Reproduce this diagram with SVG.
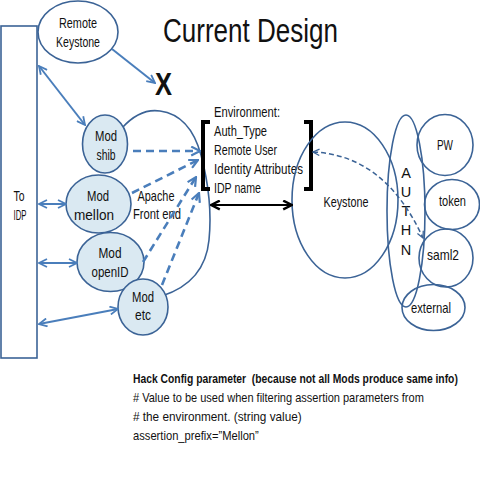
<svg xmlns="http://www.w3.org/2000/svg" width="480" height="480" viewBox="0 0 480 480">
<defs>
<style>
text{font-family:"Liberation Sans",Arial,sans-serif;fill:#111;}
.t{font-size:14.5px;text-anchor:middle;}
.env{font-size:14.5px;}
.bot{font-size:13px;}
.shape{fill:none;stroke:#3b6396;stroke-width:1.6;}
.mod{fill:#dae9f2;stroke:#3b6396;stroke-width:1.6;}
.blue{fill:none;stroke:#4a7ebb;stroke-width:2;}
.dash{fill:none;stroke:#4a7ebb;stroke-width:2.6;stroke-dasharray:8 5;}
.thin{fill:none;stroke:#3b6396;stroke-width:1.5;stroke-dasharray:5 3;}
.blk{fill:none;stroke:#000;stroke-width:2.2;}
</style>
<marker id="ab" viewBox="0 0 10 10" refX="9" refY="5" markerWidth="10" markerHeight="10" markerUnits="userSpaceOnUse" orient="auto-start-reverse">
<path d="M1,1 L9,5 L1,9" fill="none" stroke="#4a7ebb" stroke-width="1.8"/>
</marker>
<marker id="ad" viewBox="0 0 10 10" refX="9" refY="5" markerWidth="11" markerHeight="11" markerUnits="userSpaceOnUse" orient="auto">
<path d="M1,1 L9,5 L1,9" fill="none" stroke="#4a7ebb" stroke-width="2"/>
</marker>
<marker id="ak" viewBox="0 0 10 10" refX="9" refY="5" markerWidth="11" markerHeight="11" markerUnits="userSpaceOnUse" orient="auto-start-reverse">
<path d="M1,1 L9,5 L1,9" fill="none" stroke="#000" stroke-width="2.2"/>
</marker>
<marker id="at" viewBox="0 0 10 10" refX="9" refY="5" markerWidth="8" markerHeight="8" markerUnits="userSpaceOnUse" orient="auto-start-reverse">
<path d="M1,1 L9,5 L1,9" fill="none" stroke="#3b6396" stroke-width="1.6"/>
</marker>
</defs>
<rect width="480" height="480" fill="#fff"/>

<text x="163" y="42" font-size="33" textLength="175" lengthAdjust="spacingAndGlyphs">Current Design</text>
<text x="155" y="95" font-size="32" font-weight="bold" textLength="17" lengthAdjust="spacingAndGlyphs">X</text>

<g id="apache">
<path class="shape" d="M122 128 Q140 108 160 111 Q190 115 201 155 Q213 200 209 240 Q205 282 162 296"/>
<text class="t" x="156" y="201" textLength="37" lengthAdjust="spacingAndGlyphs">Apache</text>
<text class="t" x="157" y="219" textLength="48" lengthAdjust="spacingAndGlyphs">Front end</text>
</g>

<g id="idp">
<rect class="shape" x="1" y="26" width="36" height="332"/>
<text class="t" x="19" y="201" font-size="15" textLength="11" lengthAdjust="spacingAndGlyphs">To</text>
<text class="t" x="20" y="220" font-size="15" textLength="13" lengthAdjust="spacingAndGlyphs">IDP</text>
</g>

<g id="remote-keystone">
<ellipse class="shape" cx="78" cy="32" rx="40" ry="31" fill="#fff"/>
<text class="t" x="78" y="28" textLength="38" lengthAdjust="spacingAndGlyphs">Remote</text>
<text class="t" x="78" y="47" textLength="44" lengthAdjust="spacingAndGlyphs">Keystone</text>
</g>

<g id="mod-shib">
<ellipse class="mod" cx="105" cy="144" rx="22.5" ry="29"/>
<text class="t" x="106" y="141" textLength="22" lengthAdjust="spacingAndGlyphs">Mod</text>
<text class="t" x="106" y="160" textLength="19" lengthAdjust="spacingAndGlyphs">shib</text>
</g>
<g id="mod-mellon">
<ellipse class="mod" cx="98.5" cy="204" rx="32.5" ry="29"/>
<text class="t" x="98" y="201" textLength="22" lengthAdjust="spacingAndGlyphs">Mod</text>
<text class="t" x="94" y="220" textLength="40" lengthAdjust="spacingAndGlyphs">mellon</text>
</g>
<g id="mod-openid">
<ellipse class="mod" cx="110.5" cy="262" rx="33.5" ry="29.5"/>
<text class="t" x="110" y="258" textLength="23" lengthAdjust="spacingAndGlyphs">Mod</text>
<text class="t" x="110" y="277" textLength="37" lengthAdjust="spacingAndGlyphs">openID</text>
</g>
<g id="mod-etc">
<ellipse class="mod" cx="143" cy="307" rx="25" ry="28"/>
<text class="t" x="143" y="302" textLength="22" lengthAdjust="spacingAndGlyphs">Mod</text>
<text class="t" x="143" y="320" textLength="16" lengthAdjust="spacingAndGlyphs">etc</text>
</g>

<g id="environment">
<path d="M210 122 H203 V189 H210" fill="none" stroke="#000" stroke-width="4"/>
<path d="M304 122 H311 V189 H304" fill="none" stroke="#000" stroke-width="4"/>
<text class="env" x="214" y="117" textLength="66" lengthAdjust="spacingAndGlyphs">Environment:</text>
<text class="env" x="214" y="136" textLength="53" lengthAdjust="spacingAndGlyphs">Auth_Type</text>
<text class="env" x="214" y="155" textLength="63" lengthAdjust="spacingAndGlyphs">Remote User</text>
<text class="env" x="214" y="174" textLength="89" lengthAdjust="spacingAndGlyphs">Identity Attributes</text>
<text class="env" x="214" y="193" textLength="47" lengthAdjust="spacingAndGlyphs">IDP name</text>
</g>

<g id="keystone">
<ellipse class="shape" cx="345" cy="200" rx="53" ry="78"/>
<text class="t" x="346" y="207" textLength="45" lengthAdjust="spacingAndGlyphs">Keystone</text>
</g>

<g id="authn">
<ellipse class="shape" cx="406" cy="211" rx="19" ry="96"/>
<text class="t" x="406" y="178">A</text>
<text class="t" x="406" y="197">U</text>
<text class="t" x="406" y="216">T</text>
<text class="t" x="406" y="235">H</text>
<text class="t" x="406" y="255">N</text>
</g>

<g id="pw">
<ellipse class="shape" cx="445" cy="145" rx="28" ry="30.5"/>
<text class="t" x="445" y="150" textLength="16" lengthAdjust="spacingAndGlyphs">PW</text>
</g>
<g id="token">
<ellipse class="shape" cx="452" cy="204.5" rx="27.5" ry="25"/>
<text class="t" x="452.5" y="206" textLength="27" lengthAdjust="spacingAndGlyphs">token</text>
</g>
<g id="saml2">
<ellipse class="shape" cx="446" cy="258" rx="27" ry="29"/>
<text class="t" x="443" y="260" textLength="32" lengthAdjust="spacingAndGlyphs">saml2</text>
</g>
<g id="external">
<ellipse class="shape" cx="433.5" cy="307.5" rx="31.5" ry="23"/>
<text class="t" x="431" y="313" textLength="40" lengthAdjust="spacingAndGlyphs">external</text>
</g>

<g id="connectors">
<line class="blue" x1="112" y1="49" x2="155" y2="83" marker-end="url(#ab)"/>
<line class="blue" x1="39" y1="66" x2="85" y2="125" marker-start="url(#ab)" marker-end="url(#ab)"/>
<line class="blue" x1="39" y1="204" x2="66" y2="204" marker-start="url(#ab)" marker-end="url(#ab)"/>
<line class="blue" x1="39" y1="263" x2="77" y2="263" marker-start="url(#ab)" marker-end="url(#ab)"/>
<line class="blue" x1="39" y1="324" x2="118" y2="309" marker-start="url(#ab)" marker-end="url(#ab)"/>
<line class="dash" x1="133" y1="151" x2="200" y2="151" marker-end="url(#ad)"/>
<line class="dash" x1="132" y1="193" x2="198" y2="160" marker-end="url(#ad)"/>
<line class="dash" x1="143" y1="262" x2="196" y2="177" marker-end="url(#ad)"/>
<line class="dash" x1="162" y1="285" x2="199" y2="193" marker-end="url(#ad)"/>
<line class="blk" x1="211" y1="205" x2="292" y2="205" marker-start="url(#ak)" marker-end="url(#ak)"/>
<path class="thin" d="M313 152 Q385 155 423 238" marker-start="url(#at)" marker-end="url(#at)"/>
</g>

<g id="notes" transform="translate(133,0) scale(0.74,1)">
<text class="bot" x="0" y="383" font-weight="bold" textLength="439" lengthAdjust="spacingAndGlyphs">Hack Config parameter &#160;(because not all Mods produce same info)</text>
<text class="bot" x="0" y="402" textLength="393" lengthAdjust="spacingAndGlyphs"># Value to be used when filtering assertion parameters from</text>
<text class="bot" x="0" y="421" textLength="228" lengthAdjust="spacingAndGlyphs"># the environment. (string value)</text>
<text class="bot" x="0" y="440" textLength="170" lengthAdjust="spacingAndGlyphs">assertion_prefix=”Mellon”</text>
</g>
</svg>
